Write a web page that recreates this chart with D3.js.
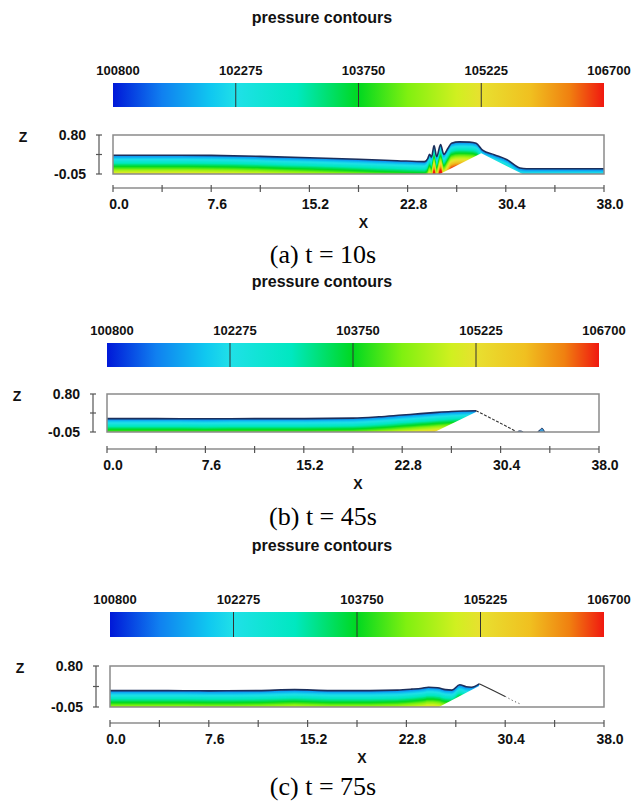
<!DOCTYPE html>
<html><head><meta charset="utf-8">
<script src="https://cdn.jsdelivr.net/npm/d3@7"></script>
<style>body{margin:0;background:#fff}svg{display:block}</style>
</head><body>
<svg id="chart" width="640" height="805"></svg>
<script>
// ---------------- data ----------------
const titleText = "pressure contours";
const captions = ["(a) t = 10s", "(b) t = 45s", "(c) t = 75s"];
const cbLevels = [100800, 102275, 103750, 105225, 106700];
const rampStops  = [0, 0.1, 0.2, 0.25, 0.375, 0.5, 0.6, 0.7, 0.75, 0.85, 0.93, 1];
const rampColors = ["#0018d8","#1080f0","#10c8f0","#20e0e8","#00e8c0","#00d820","#80f010","#d0f020","#e8e030","#f0c020","#f08010","#f01810"];
const xTickValues = [0, 3.8, 7.6, 11.4, 15.2, 19.0, 22.8, 26.6, 30.4, 34.2, 38.0];
const xTickLabels = ["0.0", "", "7.6", "", "15.2", "", "22.8", "", "30.4", "", "38.0"];
const zTickValues = [0.80, 0.375, -0.05];
const zTickLabels = ["0.80", "", "-0.05"];
const xDomain = [0, 38];
const zDomain = [-0.05, 0.80];
const bedX = [0, 25.3, 28.5, 31.7, 38];
const bedZ = [-0.05, -0.05, 0.40, -0.05, -0.05];
const pAtm = 101325, rhoG = 9810;

// t = 10 s free surface
const surfX10 = [0, 3.8, 7.6, 11.4, 15.2, 19.0, 22.0, 24.1, 24.35, 24.5, 24.65, 24.85, 25.05, 25.35, 25.6, 25.9, 26.2, 26.8, 27.6, 28.1, 28.6, 29.5, 30.5, 31.5, 32.0, 35.0, 38.0];
const surfZ10 = [0.36, 0.36, 0.355, 0.335, 0.305, 0.27, 0.24, 0.22, 0.28, 0.38, 0.32, 0.57, 0.33, 0.59, 0.38, 0.50, 0.62, 0.65, 0.645, 0.62, 0.47, 0.37, 0.26, 0.08, 0.065, 0.065, 0.065];
// t = 45 s
const surfX45 = [0, 3.8, 7.6, 11.4, 15.2, 19.0, 21.0, 22.8, 24.2, 25.5, 26.6, 27.5, 28.5];
const surfZ45 = [0.25, 0.25, 0.245, 0.25, 0.25, 0.26, 0.29, 0.33, 0.36, 0.39, 0.41, 0.42, 0.425];
const filmX45 = [28.5, 29.3, 30.1, 30.9, 31.6];
const filmZ45 = [0.425, 0.31, 0.19, 0.07, -0.04];
const blobAX45 = [31.7, 31.85, 32.0, 32.15];
const blobAZ45 = [-0.05, -0.025, -0.03, -0.05];
const blobBX45 = [33.25, 33.45, 33.6, 33.8];
const blobBZ45 = [-0.05, 0.0, 0.035, -0.05];
// t = 75 s
const surfX75 = [0, 3.8, 7.6, 11.4, 14.2, 17.0, 20.0, 22.1, 23.2, 24.0, 24.5, 25.2, 25.8, 26.3, 26.9, 27.4, 27.8, 28.4];
const surfZ75 = [0.29, 0.29, 0.285, 0.29, 0.31, 0.29, 0.29, 0.30, 0.32, 0.34, 0.36, 0.35, 0.31, 0.30, 0.41, 0.37, 0.36, 0.43];
const filmX75 = [28.4, 29.4, 30.4];
const filmZ75 = [0.43, 0.30, 0.17];
const dripX75 = [30.4, 31.0, 31.5];
const dripZ75 = [0.17, 0.08, 0.02];

// ---------------- layout ----------------
const panels = [
  {surfX: surfX10, surfZ: surfZ10, film: null, drip: null, blobs: [],
   x0: 113, x1: 604, yTop: 135, yBot: 174, cbX0: 113, cbX1: 604, cbY: 83, cbH: 24,
   titleY: 23, axisY: 188, capY: 263},
  {surfX: surfX45, surfZ: surfZ45, film: [filmX45, filmZ45], drip: null,
   blobs: [[blobAX45, blobAZ45], [blobBX45, blobBZ45]],
   x0: 107, x1: 599, yTop: 394, yBot: 432, cbX0: 107, cbX1: 599, cbY: 343, cbH: 24,
   titleY: 287, axisY: 449, capY: 525},
  {surfX: surfX75, surfZ: surfZ75, film: [filmX75, filmZ75], drip: [dripX75, dripZ75], blobs: [],
   x0: 110, x1: 604, yTop: 666, yBot: 707, cbX0: 110, cbX1: 604, cbY: 612, cbH: 25,
   titleY: 551, axisY: 723, capY: 795}
];

const sans = "'Liberation Sans', Arial, Helvetica, sans-serif";
const serif = "'Liberation Serif', 'Times New Roman', serif";
const svg = d3.select("#chart");
const defs = svg.append("defs");
const ramp = d3.scaleLinear().domain(rampStops).range(rampColors).clamp(true);
const pNorm = d3.scaleLinear().domain([cbLevels[0], cbLevels[cbLevels.length - 1]]).range([0, 1]).clamp(true);
const nBands = 72, bandStep = 0.012;

panels.forEach((p, i) => {
  const g = svg.append("g");
  const x = d3.scaleLinear().domain(xDomain).range([p.x0, p.x1]);
  const y = d3.scaleLinear().domain(zDomain).range([p.yBot, p.yTop]);
  const cx = (p.x0 + p.x1) / 2;

  // title
  g.append("text").attr("x", 322).attr("y", p.titleY).attr("text-anchor", "middle")
    .attr("font-family", sans).attr("font-weight", "bold").attr("font-size", 16)
    .attr("fill", "#111").text(titleText);

  // colour bar
  const grad = defs.append("linearGradient").attr("id", "grad" + i)
    .attr("x1", "0%").attr("x2", "100%").attr("y1", "0%").attr("y2", "0%");
  rampStops.forEach((s, j) => grad.append("stop").attr("offset", (s * 100) + "%").attr("stop-color", rampColors[j]));
  const xc = d3.scaleLinear().domain([cbLevels[0], cbLevels[cbLevels.length - 1]]).range([p.cbX0, p.cbX1]);
  g.append("rect").attr("x", p.cbX0).attr("y", p.cbY).attr("width", p.cbX1 - p.cbX0).attr("height", p.cbH)
    .attr("fill", `url(#grad${i})`);
  g.selectAll(".div").data(cbLevels.slice(1, -1)).join("line")
    .attr("x1", d => xc(d)).attr("x2", d => xc(d)).attr("y1", p.cbY).attr("y2", p.cbY + p.cbH)
    .attr("stroke", "#333").attr("stroke-width", 1);
  g.selectAll(".cbl").data(cbLevels).join("text")
    .attr("x", d => xc(d) + 5).attr("y", p.cbY - 8).attr("text-anchor", "middle")
    .attr("font-family", sans).attr("font-weight", "bold").attr("font-size", 13).attr("fill", "#111")
    .text(d => d);

  // water
  const surf = p.surfX.map((v, j) => ({x: v, z: p.surfZ[j]}));
  const waterArea = d3.area().x(d => x(d.x)).y0(p.yBot).y1(d => y(d.z)).curve(d3.curveMonotoneX);
  defs.append("clipPath").attr("id", "water" + i).append("path").attr("d", waterArea(surf));
  defs.append("clipPath").attr("id", "plot" + i).append("rect")
    .attr("x", p.x0).attr("y", p.yTop).attr("width", p.x1 - p.x0).attr("height", p.yBot - p.yTop);
  const gp = g.append("g").attr("clip-path", `url(#plot${i})`);
  const gw = gp.append("g").attr("clip-path", `url(#water${i})`);
  for (let k = 0; k < nBands; k++) {
    const depth = k * bandStep;
    const col = ramp(pNorm(pAtm + rhoG * (depth + bandStep / 2)));
    const band = d3.area().x(d => x(d.x)).y0(p.yBot + 2).y1(d => y(d.z - depth)).curve(d3.curveMonotoneX);
    gw.append("path").attr("d", band(surf)).attr("fill", col);
  }
  // obstacle (solid, left white)
  const bed = bedX.map((v, j) => ({x: v, z: bedZ[j]}));
  gp.append("path").attr("d", d3.area().x(d => x(d.x)).y0(p.yBot + 2).y1(d => y(d.z))(bed)).attr("fill", "#fff");
  // surface line
  gp.append("path").attr("d", d3.line().x(d => x(d.x)).y(d => y(d.z)).curve(d3.curveMonotoneX)(surf))
    .attr("fill", "none").attr("stroke", "#1b2f5c").attr("stroke-width", 1.6);
  if (p.film) {
    const f = p.film[0].map((v, j) => ({x: v, z: p.film[1][j]}));
    gp.append("path").attr("d", d3.line().x(d => x(d.x)).y(d => y(d.z))(f))
      .attr("fill", "none").attr("stroke", "#333").attr("stroke-width", 1.1)
      .attr("stroke-dasharray", i === 2 ? null : "3,1.5");
  }
  if (p.drip) {
    const f = p.drip[0].map((v, j) => ({x: v, z: p.drip[1][j]}));
    gp.append("path").attr("d", d3.line().x(d => x(d.x)).y(d => y(d.z))(f))
      .attr("fill", "none").attr("stroke", "#555").attr("stroke-width", 1)
      .attr("stroke-dasharray", "1.2,2.5");
  }
  p.blobs.forEach(b => {
    const f = b[0].map((v, j) => ({x: v, z: b[1][j]}));
    gp.append("path").attr("d", d3.line().x(d => x(d.x)).y(d => y(d.z)).curve(d3.curveMonotoneX)(f))
      .attr("fill", "#3a9ad8").attr("stroke", "#1b2f5c").attr("stroke-width", 1);
  });
  // box
  g.append("rect").attr("x", p.x0).attr("y", p.yTop).attr("width", p.x1 - p.x0).attr("height", p.yBot - p.yTop)
    .attr("fill", "none").attr("stroke", "#8a8a8a").attr("stroke-width", 1.5);

  // z axis
  const ax = p.x0 - 14;
  g.append("line").attr("x1", ax).attr("x2", ax).attr("y1", y(zTickValues[0])).attr("y2", y(zTickValues[2]))
    .attr("stroke", "#555").attr("stroke-width", 1.2);
  g.selectAll(".zt").data(zTickValues).join("line")
    .attr("x1", ax - 3).attr("x2", ax + 3).attr("y1", d => y(d)).attr("y2", d => y(d))
    .attr("stroke", "#555").attr("stroke-width", 1.2);
  g.selectAll(".zl").data(zTickValues).join("text")
    .attr("x", p.x0 - 27).attr("y", d => y(d) + 5).attr("text-anchor", "end")
    .attr("font-family", sans).attr("font-weight", "bold").attr("font-size", 14).attr("fill", "#111")
    .text((d, j) => zTickLabels[j]);
  g.append("text").attr("x", p.x0 - 90).attr("y", p.yTop + 7).attr("text-anchor", "middle")
    .attr("font-family", sans).attr("font-weight", "bold").attr("font-size", 14).attr("fill", "#111").text("Z");

  // x axis
  g.append("line").attr("x1", x(xDomain[0])).attr("x2", x(xDomain[1])).attr("y1", p.axisY).attr("y2", p.axisY)
    .attr("stroke", "#555").attr("stroke-width", 1.2);
  g.selectAll(".xt").data(xTickValues).join("line")
    .attr("x1", d => x(d)).attr("x2", d => x(d)).attr("y1", p.axisY - 3).attr("y2", p.axisY + 4)
    .attr("stroke", "#555").attr("stroke-width", 1.2);
  g.selectAll(".xl").data(xTickValues).join("text")
    .attr("x", d => x(d) + 6).attr("y", p.axisY + 21).attr("text-anchor", "middle")
    .attr("font-family", sans).attr("font-weight", "bold").attr("font-size", 14).attr("fill", "#111")
    .text((d, j) => xTickLabels[j]);
  g.append("text").attr("x", cx + 5).attr("y", p.axisY + 40).attr("text-anchor", "middle")
    .attr("font-family", sans).attr("font-weight", "bold").attr("font-size", 14).attr("fill", "#111").text("X");

  // caption
  g.append("text").attr("x", 323).attr("y", p.capY).attr("text-anchor", "middle")
    .attr("font-family", serif).attr("font-size", 26).attr("fill", "#000").text(captions[i]);
});
</script>
</body></html>
